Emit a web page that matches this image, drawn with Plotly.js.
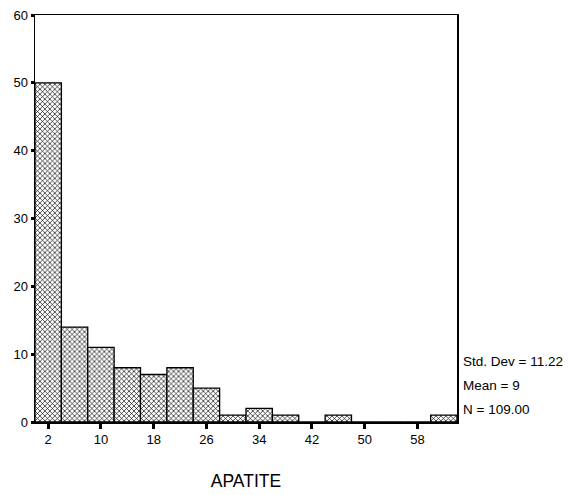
<!DOCTYPE html>
<html>
<head>
<meta charset="utf-8">
<script src="https://cdn.plot.ly/plotly-3.0.1.min.js"></script>
<style>html,body{margin:0;padding:0;background:#fff;}#chart{width:568px;height:495px;}</style>
</head>
<body>
<div id="chart"></div>
<script>
// Bin centers (bin width 4) and counts
var binCenters = [2, 6, 10, 14, 18, 22, 26, 30, 34, 38, 42, 46, 50, 54, 58, 62];
var counts = [50, 14, 11, 8, 7, 8, 5, 1, 2, 1, 0, 1, 0, 0, 0, 1];
var xTickVals = [2, 10, 18, 26, 34, 42, 50, 58];
var yTickVals = [0, 10, 20, 30, 40, 50, 60];
var statsLines = ["Std. Dev = 11.22", "Mean = 9", "N = 109.00"];
var xTitle = "APATITE";

var trace = {
  type: "bar",
  x: binCenters,
  y: counts,
  width: 4,
  marker: {
    color: "#ffffff",
    line: {color: "#000000", width: 1.3},
    pattern: {shape: "x", fgcolor: "#000000", bgcolor: "#ffffff", size: 3.5, solidity: 0.35}
  },
  hoverinfo: "skip"
};

var annotations = statsLines.map(function (t, i) {
  return {
    text: t, xref: "paper", yref: "paper", x: 1, y: [0.149, 0.089, 0.03][i],
    xanchor: "left", yanchor: "middle", xshift: 4, showarrow: false,
    font: {family: "Liberation Sans, Arial, sans-serif", size: 13.5, color: "#000"}
  };
});

var layout = {
  width: 568, height: 495,
  margin: {l: 35, r: 111, t: 15, b: 73},
  paper_bgcolor: "#fff", plot_bgcolor: "#fff",
  showlegend: false,
  bargap: 0,
  font: {family: "Liberation Sans, Arial, sans-serif", size: 13, color: "#000"},
  xaxis: {
    range: [0, 64], tickvals: xTickVals, ticktext: xTickVals.map(String),
    ticks: "outside", ticklen: 5, tickwidth: 3, tickcolor: "#000",
    showline: true, linecolor: "#000", linewidth: 1.5, mirror: true,
    showgrid: false, zeroline: false,
    tickfont: {size: 13},
    title: {text: xTitle, font: {size: 17.5}, standoff: 28}
  },
  yaxis: {
    range: [0, 60], tickvals: yTickVals, ticktext: yTickVals.map(String),
    ticks: "outside", ticklen: 3, tickwidth: 3, tickcolor: "#000",
    showline: true, linecolor: "#000", linewidth: 1.5, mirror: true,
    showgrid: false, zeroline: false,
    tickfont: {size: 13}
  },
  annotations: annotations
};

Plotly.newPlot("chart", [trace], layout, {displayModeBar: false, staticPlot: true});
</script>
</body>
</html>
